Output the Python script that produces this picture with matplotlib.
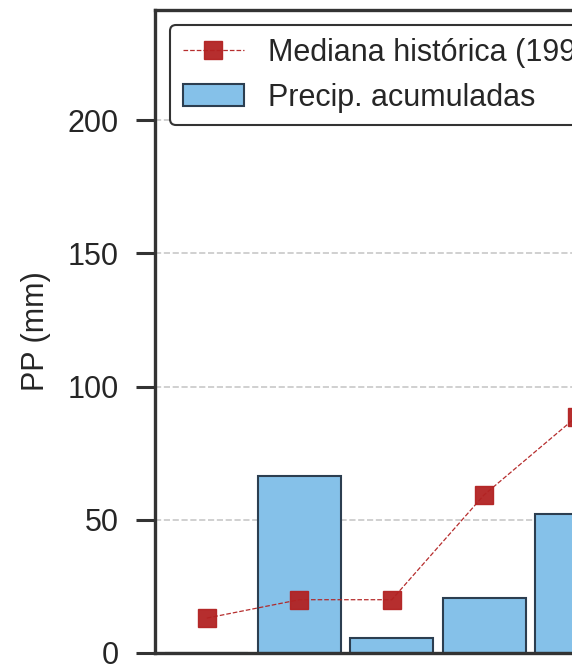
import matplotlib
matplotlib.use("Agg")
import matplotlib.pyplot as plt

# monthly values (only the visible part of the chart)
months = ["m1", "m2", "m3", "m4", "m5"]
precip = [0, 66.5, 5.6, 20.6, 52]
mediana = [13.1, 20, 20, 59.4, 88.7]

plt.rcParams["font.family"] = ["Liberation Sans", "DejaVu Sans"]
plt.rcParams["text.color"] = "#262626"

fig = plt.figure(figsize=(5.72, 6.68), dpi=100)
# axes run past the right edge of the canvas, like the cropped original
ax = fig.add_axes([155 / 572, 15 / 668, 480 / 572, 643 / 668])

x = list(range(len(months)))
ax.bar(x, precip, width=0.9, color="#85C1E9", edgecolor="#2c3e50",
       linewidth=1.5, label="Precip. acumuladas", zorder=2)
ax.plot(x, mediana, linestyle="--", linewidth=0.9, color="#B22222",
        marker="s", markersize=13, markeredgecolor="#B22222", alpha=0.95,
        label="Mediana histórica (1991-2020)", zorder=3)

ax.set_xlim(-0.56, 4.63)
ax.set_ylim(0, 241.3)
ax.set_yticks([0, 50, 100, 150, 200])
ax.set_xticks([])
ax.tick_params(axis="y", labelsize=22, length=14, width=2.2, pad=12,
               color="#333333", labelcolor="#262626")
ax.set_ylabel("PP (mm)", fontsize=22, labelpad=12, color="#262626")
ax.yaxis.grid(True, linestyle="--", linewidth=1.2, color="#c8c8c8", zorder=0)
ax.set_axisbelow(True)

for side in ["left", "bottom", "top", "right"]:
    ax.spines[side].set_linewidth(2.4)
    ax.spines[side].set_color("#333333")

# legend: line entry first, then the bars
handles, labels = ax.get_legend_handles_labels()
if not labels[0].startswith("Mediana"):
    handles, labels = handles[::-1], labels[::-1]
leg = ax.legend(handles, labels, loc="upper left", fontsize=22,
                frameon=True, fancybox=True, framealpha=1.0)
leg.get_frame().set_edgecolor("#333333")
leg.get_frame().set_linewidth(1.5)

fig.savefig("out.png", dpi=100)
